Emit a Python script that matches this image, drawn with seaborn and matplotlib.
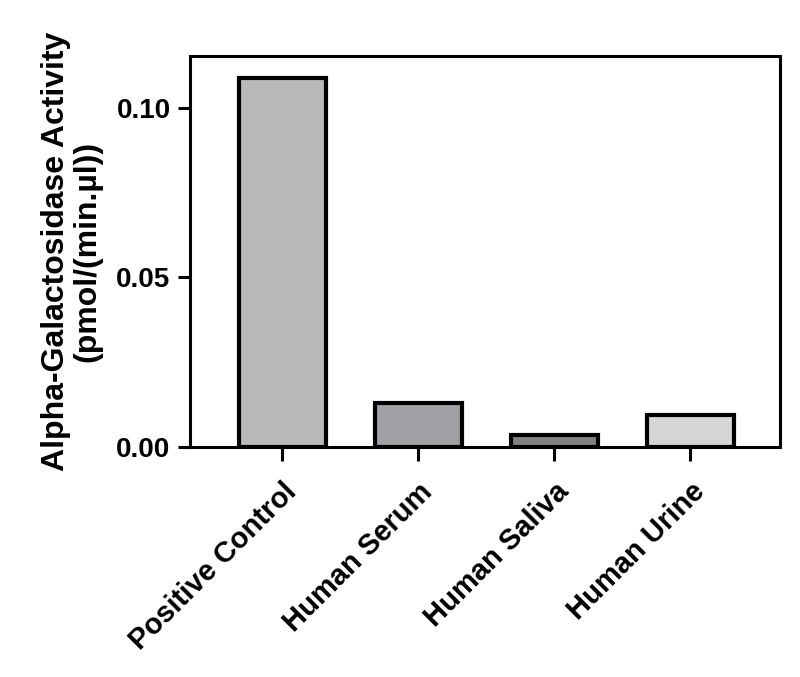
import numpy as np
import pandas as pd
import matplotlib
matplotlib.use("Agg")
import matplotlib.pyplot as plt
import seaborn as sns

# data
samples = ["Positive Control", "Human Serum", "Human Saliva", "Human Urine"]
activity = [0.1087, 0.0130, 0.0036, 0.0094]
bar_colors = ["#b9b9b9", "#a1a1a5", "#828282", "#d5d5d5"]
yticks = [0.00, 0.05, 0.10]

df = pd.DataFrame({"sample": samples, "activity": activity})

sns.set_style("ticks")
plt.rcParams["font.family"] = ["Liberation Sans", "DejaVu Sans"]
plt.rcParams["font.weight"] = "bold"
plt.rcParams["text.color"] = "black"
plt.rcParams["axes.labelcolor"] = "black"
plt.rcParams["xtick.color"] = "black"
plt.rcParams["ytick.color"] = "black"

fig = plt.figure(figsize=(8, 6.77), dpi=100)
ax = fig.add_axes([0.2375, 0.3397, 0.7375, 0.5776])

sns.barplot(data=df, x="sample", y="activity", hue="sample",
            palette=dict(zip(samples, bar_colors)), legend=False,
            width=0.64, edgecolor="black", linewidth=3.0, ax=ax)

ax.set_xlim(-0.68, 3.66)
ax.set_ylim(0, 0.1153)
ax.set_yticks(yticks)
ax.set_yticklabels([f"{v:.2f}" for v in yticks], fontsize=20, fontweight="bold")
ax.set_xticks(range(len(samples)))
ax.set_xticklabels(samples, rotation=45, ha="right", rotation_mode="anchor",
                   fontsize=21, fontweight="bold")
ax.tick_params(axis="x", length=10, width=2.2, pad=12)
ax.tick_params(axis="y", length=9, width=2.2, pad=5)
ax.set_xlabel("")
ax.set_ylabel("Alpha-Galactosidase Activity\n(pmol/(min.µl))",
              fontsize=23, fontweight="bold", labelpad=10, linespacing=1.05)

for side in ["left", "right", "top", "bottom"]:
    ax.spines[side].set_visible(True)
    ax.spines[side].set_linewidth(2.2)
    ax.spines[side].set_color("black")

fig.savefig("out.png", dpi=100)
